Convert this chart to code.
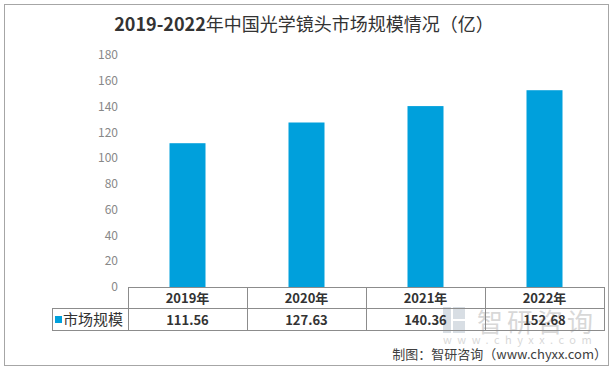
<!DOCTYPE html>
<html>
<head>
<meta charset="utf-8">
<script src="https://cdn.jsdelivr.net/npm/d3@7"></script>
<style>
  body { margin: 0; background: #fff; }
  text { font-family: 'Noto Sans CJK SC', 'Noto Sans', sans-serif; }
</style>
</head>
<body>
<div id="chart"></div>
<script>
const years = ['2019年', '2020年', '2021年', '2022年']
const values = [111.56, 127.63, 140.36, 152.68]
const seriesName = '市场规模'
const yTicks = [0, 20, 40, 60, 80, 100, 120, 140, 160, 180]

const width = 614
const height = 370
const barColor = '#00a0dc'

const svg = d3
  .select('#chart')
  .append('svg')
  .attr('width', width)
  .attr('height', height)

// outer frame
svg
  .append('rect')
  .attr('x', 4.5)
  .attr('y', 4.5)
  .attr('width', 604)
  .attr('height', 361)
  .attr('fill', '#fff')
  .attr('stroke', '#a6a6a6')

// title
const title = svg
  .append('text')
  .attr('x', 304)
  .attr('y', 31)
  .attr('text-anchor', 'middle')
  .attr('font-size', 18)
  .attr('fill', '#333')
title.append('tspan').attr('font-weight', 700).text('2019-2022')
title.append('tspan').text('年中国光学镜头市场规模情况（亿）')

const xScale = d3
  .scaleBand()
  .domain(years)
  .range([128, 604])

const yScale = d3
  .scaleLinear()
  .domain([0, 180])
  .range([287, 55])

// y axis labels
svg
  .selectAll('.y-label')
  .data(yTicks)
  .enter()
  .append('text')
  .attr('class', 'y-label')
  .attr('x', 118)
  .attr('y', d => yScale(d))
  .attr('dy', '0.35em')
  .attr('text-anchor', 'end')
  .attr('font-size', 12)
  .attr('fill', '#888')
  .text(d => d)

// watermark (faint, sits behind the table)
const wm = svg.append('g').attr('opacity', 0.3)
wm.append('rect')
  .attr('x', 443).attr('y', 307).attr('width', 8).attr('height', 26)
  .attr('fill', '#7f93a8')
wm.append('rect')
  .attr('x', 453).attr('y', 307).attr('width', 12).attr('height', 12)
  .attr('fill', '#7f93a8')
wm.append('rect')
  .attr('x', 453).attr('y', 321).attr('width', 12).attr('height', 12)
  .attr('fill', '#7f93a8')
wm.append('text')
  .attr('x', 477).attr('y', 332)
  .attr('font-size', 26)
  .attr('letter-spacing', 4)
  .attr('fill', '#808080')
  .text('智研咨询')
wm.append('text')
  .attr('x', 443).attr('y', 344)
  .attr('font-size', 11)
  .attr('letter-spacing', 5.5)
  .attr('fill', '#808080')
  .text('www.chyxx.com')

// bars
svg
  .selectAll('.bar')
  .data(values)
  .enter()
  .append('rect')
  .attr('class', 'bar')
  .attr('x', (d, i) => xScale(years[i]) + xScale.bandwidth() / 2 - 18)
  .attr('width', 36)
  .attr('y', d => yScale(d))
  .attr('height', d => yScale(0) - yScale(d))
  .attr('fill', barColor)

// data table
const grid = svg.append('g').attr('stroke', '#8c8c8c').attr('stroke-width', 1)
grid.append('line').attr('x1', 128).attr('x2', 604).attr('y1', 287.5).attr('y2', 287.5)
grid.append('line').attr('x1', 52).attr('x2', 604).attr('y1', 308.5).attr('y2', 308.5)
grid.append('line').attr('x1', 52).attr('x2', 604).attr('y1', 330.5).attr('y2', 330.5)
grid.append('line').attr('x1', 52.5).attr('x2', 52.5).attr('y1', 308).attr('y2', 331)
grid
  .selectAll('.col')
  .data(years.concat(['end']))
  .enter()
  .append('line')
  .attr('x1', d => Math.round(d === 'end' ? 604 : xScale(d)) + 0.5)
  .attr('x2', d => Math.round(d === 'end' ? 604 : xScale(d)) + 0.5)
  .attr('y1', 287)
  .attr('y2', 331)

svg
  .selectAll('.year-label')
  .data(years)
  .enter()
  .append('text')
  .attr('x', d => xScale(d) + xScale.bandwidth() / 2)
  .attr('y', 298)
  .attr('dy', '0.35em')
  .attr('text-anchor', 'middle')
  .attr('font-size', 13)
  .attr('font-weight', 700)
  .attr('fill', '#333')
  .text(d => d)

svg
  .selectAll('.value-label')
  .data(values)
  .enter()
  .append('text')
  .attr('x', (d, i) => xScale(years[i]) + xScale.bandwidth() / 2)
  .attr('y', 320)
  .attr('dy', '0.35em')
  .attr('text-anchor', 'middle')
  .attr('font-size', 13)
  .attr('font-weight', 700)
  .attr('fill', '#333')
  .text(d => d.toFixed(2))

svg
  .append('rect')
  .attr('x', 55)
  .attr('y', 316)
  .attr('width', 7)
  .attr('height', 7)
  .attr('fill', barColor)
svg
  .append('text')
  .attr('x', 63)
  .attr('y', 320)
  .attr('dy', '0.35em')
  .attr('font-size', 15)
  .attr('fill', '#333')
  .text(seriesName)

// source
svg
  .append('text')
  .attr('x', 607)
  .attr('y', 359)
  .attr('text-anchor', 'end')
  .attr('font-size', 13)
  .attr('fill', '#404040')
  .text('制图：智研咨询（www.chyxx.com）')
</script>
</body>
</html>
